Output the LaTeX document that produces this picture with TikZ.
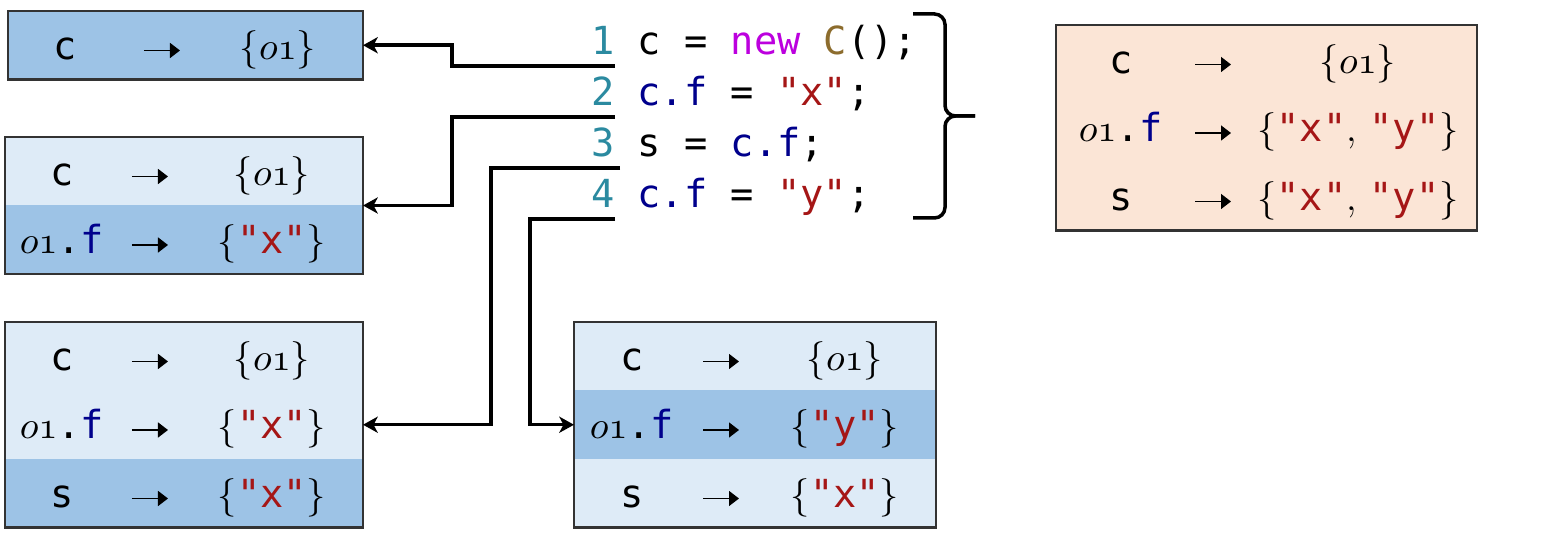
\documentclass[tikz,border=0pt]{standalone}
\usepackage{fontspec}
\setmonofont{DejaVu Sans Mono}
\usetikzlibrary{arrows,arrows.meta,positioning}
\definecolor{rowdark}{RGB}{157,195,230}
\definecolor{rowlight}{RGB}{222,235,247}
\definecolor{rowpeach}{RGB}{251,229,214}
\definecolor{linec}{RGB}{43,138,160}
\definecolor{kwc}{RGB}{188,0,222}
\definecolor{clsc}{RGB}{140,108,45}
\definecolor{fldc}{RGB}{0,0,140}
\definecolor{strc}{RGB}{165,22,22}
\newcommand{\objo}{$o\mathnormal{1}$}
\newcommand{\pset}[1]{$\{$#1$\}$}
\newcommand{\strlit}[1]{\texttt{\textcolor{strc}{"#1"}}}
\newcommand{\ofld}{\objo\texttt{.\textcolor{fldc}{f}}}
\newcommand{\mapsarrow}{\tikz[baseline=-0.9mm]\draw[line width=0.4pt,-{Triangle[length=1mm,width=1.5mm]}] (0,0) -- (3.6mm,0);}
\newcommand{\cells}[2]{\makebox[\rowwd][l]{\hspace*{\cola}\makebox[0pt]{#1}\hspace*{\colb}\makebox[0pt]{\mapsarrow}\hspace*{\colc}\makebox[0pt]{#2}}}
\tikzset{lnum/.style={anchor=base east,inner sep=0,font=\ttfamily,text=linec},
	code/.style={anchor=base west,inner sep=0,font=\ttfamily},
	cellrow/.style={rectangle,inner sep=0,outer sep=0,text height=4.85mm,text depth=2mm},
	frame/.style={draw=black!80,thick},
	layout/.code n args={4}{\def\rowwd{#1}\def\cola{#2}\def\colb{#3}\def\colc{#4}},
	link/.style={-{Stealth[length=4.2pt,width=4.6pt,inset=1.2pt]},line width=1pt}}

\begin{document}
\fontsize{11}{13}\selectfont
\begin{tikzpicture}[x=0.1mm,y=-0.1mm]
	\useasboundingbox (0,0) rectangle (1546,552);
	% program lines
	\node[lnum] (n1) at (615,55) {1};
	\node[code] (l1) at (637,55) {c = \textcolor{kwc}{new} \textcolor{clsc}{C}();};
	\node[lnum] (n2) at (615,106) {2};
	\node[code] (l2) at (637,106) {\textcolor{fldc}{c.f} = \strlit{x};};
	\node[lnum] (n3) at (615,157) {3};
	\node[code] (l3) at (637,157) {s = \textcolor{fldc}{c.f};};
	\node[lnum] (n4) at (615,208) {4};
	\node[code] (l4) at (637,208) {\textcolor{fldc}{c.f} = \strlit{y};};
	\draw[line width=1pt,rounded corners=3pt] (913,14) -| (945,116) -- (975,116);
	\draw[line width=1pt,rounded corners=3pt] (975,116) -- (945,116) |- (913,218);

	% points-to sets after each line
	\begin{scope}[layout={35.5mm}{5.7mm}{9.7mm}{11.6mm}]
		\node[cellrow,frame,fill=rowdark,anchor=north west] (b1) at (8,11) {\cells{\texttt{c}}{\pset{\objo}}};
	\end{scope}
	\begin{scope}[layout={35.8mm}{5.7mm}{8.8mm}{12.2mm}]
		\node[cellrow,fill=rowlight,anchor=north west] (b2r1) at (5,137) {\cells{\texttt{c}}{\pset{\objo}}};
		\node[cellrow,fill=rowdark,below=0pt of b2r1] (b2r2) {\cells{\ofld}{\pset{\strlit{x}}}};
		\draw[frame] (b2r1.north west) rectangle (b2r2.south east);
		\node[cellrow,fill=rowlight,anchor=north west] (b3r1) at (5,322) {\cells{\texttt{c}}{\pset{\objo}}};
		\node[cellrow,fill=rowlight,below=0pt of b3r1] (b3r2) {\cells{\ofld}{\pset{\strlit{x}}}};
		\node[cellrow,fill=rowdark,below=0pt of b3r2] (b3r3) {\cells{\texttt{s}}{\pset{\strlit{x}}}};
		\draw[frame] (b3r1.north west) rectangle (b3r3.south east);
	\end{scope}
	\begin{scope}[layout={36.2mm}{5.8mm}{8.9mm}{12.4mm}]
		\node[cellrow,fill=rowlight,anchor=north west] (b4r1) at (574,322) {\cells{\texttt{c}}{\pset{\objo}}};
		\node[cellrow,fill=rowdark,below=0pt of b4r1] (b4r2) {\cells{\ofld}{\pset{\strlit{y}}}};
		\node[cellrow,fill=rowlight,below=0pt of b4r2] (b4r3) {\cells{\texttt{s}}{\pset{\strlit{x}}}};
		\draw[frame] (b4r1.north west) rectangle (b4r3.south east);
	\end{scope}
	\begin{scope}[layout={42.1mm}{6.5mm}{9.2mm}{14.5mm}]
		\node[cellrow,fill=rowpeach,anchor=north west] (b5r1) at (1056,25) {\cells{\texttt{c}}{\pset{\objo}}};
		\node[cellrow,fill=rowpeach,below=0pt of b5r1] (b5r2) {\cells{\ofld}{\pset{\strlit{x}, \strlit{y}}}};
		\node[cellrow,fill=rowpeach,below=0pt of b5r2] (b5r3) {\cells{\texttt{s}}{\pset{\strlit{x}, \strlit{y}}}};
		\draw[frame] (b5r1.north west) rectangle (b5r3.south east);
	\end{scope}

	\draw[link] ([yshift=-1.1mm]n1.base east) -- ++(-163,0) |- (b1.east);
	\draw[link] ([yshift=-1.1mm]n2.base east) -- ++(-163,0) |- (b2r1.south east);
	\draw[link] ([xshift=0.5mm,yshift=-1.1mm]n3.base east) -- ++(-129,0) |- (b3r2.east);
	\draw[link] ([yshift=-1.1mm]n4.base east) -- ++(-85,0) |- (b4r2.west);
\end{tikzpicture}
\end{document}
